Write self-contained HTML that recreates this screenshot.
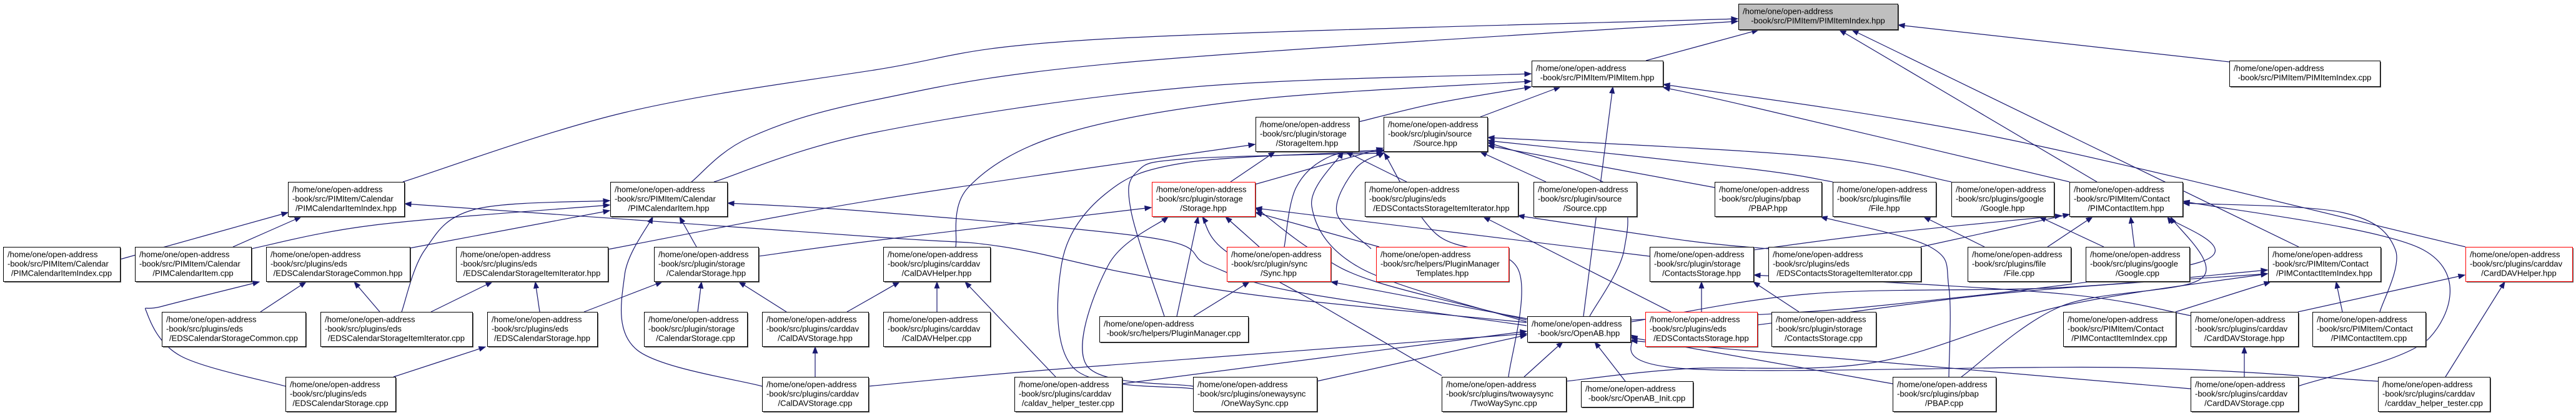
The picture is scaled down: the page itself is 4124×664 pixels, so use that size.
<!DOCTYPE html>
<html><head><meta charset="utf-8">
<style>
html,body{margin:0;padding:0;background:#fff;}
svg{display:block;}
text{font-family:"Liberation Sans",sans-serif;font-size:13px;fill:#000;}
</style></head>
<body>
<svg id="g" width="4124" height="664" xmlns="http://www.w3.org/2000/svg"></svg>
<script>
var NS="http://www.w3.org/2000/svg",svg=document.getElementById('g');
var H="/home/one/open-address";
// [x1,x2,y,h,lines,style]
var N=[
[2783,3038,6,41,[H,"-book/src/PIMItem/PIMItemIndex.hpp"],"root"],
[2452,2662,97,41,[H,"-book/src/PIMItem/PIMItem.hpp"]],
[3569,3810,97,41,[H,"-book/src/PIMItem/PIMItemIndex.cpp"]],
[2010,2175,187,55,[H,"-book/src/plugin/storage","/StorageItem.hpp"]],
[2215,2381,187,55,[H,"-book/src/plugin/source","/Source.hpp"]],
[461,647,291,55,[H,"-book/src/PIMItem/Calendar","/PIMCalendarItemIndex.hpp"]],
[977,1164,291,55,[H,"-book/src/PIMItem/Calendar","/PIMCalendarItem.hpp"]],
[1844,2009,291,55,[H,"-book/src/plugin/storage","/Storage.hpp"],"red"],
[2185,2430,291,55,[H,"-book/src/plugins/eds","/EDSContactsStorageItemIterator.hpp"]],
[2455,2620,291,55,[H,"-book/src/plugin/source","/Source.cpp"]],
[2745,2916,291,55,[H,"-book/src/plugins/pbap","/PBAP.hpp"]],
[2934,3099,291,55,[H,"-book/src/plugins/file","/File.hpp"]],
[3124,3288,291,55,[H,"-book/src/plugins/google","/Google.hpp"]],
[3313,3494,291,55,[H,"-book/src/PIMItem/Contact","/PIMContactItem.hpp"]],
[5,192,395,55,[H,"-book/src/PIMItem/Calendar","/PIMCalendarItemIndex.cpp"]],
[216,402,395,55,[H,"-book/src/PIMItem/Calendar","/PIMCalendarItem.cpp"]],
[426,656,395,55,[H,"-book/src/plugins/eds","/EDSCalendarStorageCommon.hpp"]],
[730,973,395,55,[H,"-book/src/plugins/eds","/EDSCalendarStorageItemIterator.hpp"]],
[1047,1214,395,55,[H,"-book/src/plugin/storage","/CalendarStorage.hpp"]],
[1414,1585,395,55,[H,"-book/src/plugins/carddav","/CalDAVHelper.hpp"]],
[1964,2130,395,55,[H,"-book/src/plugin/sync","/Sync.hpp"],"red"],
[2203,2415,395,55,[H,"-book/src/helpers/PluginManager","Templates.hpp"],"red"],
[2641,2807,395,55,[H,"-book/src/plugin/storage","/ContactsStorage.hpp"]],
[2831,3075,395,55,[H,"-book/src/plugins/eds","/EDSContactsStorageItemIterator.cpp"]],
[3150,3315,395,55,[H,"-book/src/plugins/file","/File.cpp"]],
[3339,3505,395,55,[H,"-book/src/plugins/google","/Google.cpp"]],
[3631,3811,395,55,[H,"-book/src/PIMItem/Contact","/PIMContactItemIndex.hpp"]],
[3947,4118,395,55,[H,"-book/src/plugins/carddav","/CardDAVHelper.hpp"],"red"],
[259,489,499,55,[H,"-book/src/plugins/eds","/EDSCalendarStorageCommon.cpp"]],
[513,756,499,55,[H,"-book/src/plugins/eds","/EDSCalendarStorageItemIterator.cpp"]],
[780,956,499,55,[H,"-book/src/plugins/eds","/EDSCalendarStorage.hpp"]],
[1031,1196,499,55,[H,"-book/src/plugin/storage","/CalendarStorage.cpp"]],
[1220,1390,499,55,[H,"-book/src/plugins/carddav","/CalDAVStorage.hpp"]],
[1414,1585,499,55,[H,"-book/src/plugins/carddav","/CalDAVHelper.cpp"]],
[1760,1998,506,41,[H,"-book/src/helpers/PluginManager.cpp"]],
[2445,2610,506,41,[H,"-book/src/OpenAB.hpp"]],
[2634,2813,499,55,[H,"-book/src/plugins/eds","/EDSContactsStorage.hpp"],"red"],
[2836,3003,499,55,[H,"-book/src/plugin/storage","/ContactsStorage.cpp"]],
[3303,3483,499,55,[H,"-book/src/PIMItem/Contact","/PIMContactItemIndex.cpp"]],
[3507,3679,499,55,[H,"-book/src/plugins/carddav","/CardDAVStorage.hpp"]],
[3702,3883,499,55,[H,"-book/src/PIMItem/Contact","/PIMContactItem.cpp"]],
[457,633,603,55,[H,"-book/src/plugins/eds","/EDSCalendarStorage.cpp"]],
[1220,1390,603,55,[H,"-book/src/plugins/carddav","/CalDAVStorage.cpp"]],
[1624,1796,603,55,[H,"-book/src/plugins/carddav","/caldav_helper_tester.cpp"]],
[1910,2108,603,55,[H,"-book/src/plugins/onewaysync","/OneWaySync.cpp"]],
[2308,2507,603,55,[H,"-book/src/plugins/twowaysync","/TwoWaySync.cpp"]],
[2531,2710,610,41,[H,"-book/src/OpenAB_Init.cpp"]],
[3030,3195,603,55,[H,"-book/src/plugins/pbap","/PBAP.cpp"]],
[3507,3679,603,55,[H,"-book/src/plugins/carddav","/CardDAVStorage.cpp"]],
[3807,3986,603,55,[H,"-book/src/plugins/carddav","/carddav_helper_tester.cpp"]]
];
var E=[
[[192,415],[461,340]],[[373,395],[482,347]],[[402,398],[600,360],[976,328]],[[656,397],[976,337]],
[[643,499],[680,400],[760,335],[976,321]],[[1115,395],[1088,347]],[[1220,618],[1020,560],[1000,440],[1045,347]],
[[417,499],[490,451]],[[608,499],[567,451]],[[457,618],[290,570],[235,500],[260,490],[415,451]],
[[690,499],[788,451]],[[864,499],[857,451]],[[935,499],[1060,451]],[[1117,499],[1123,451]],[[1259,499],[1183,451]],
[[1305,603],[1305,555]],[[630,603],[777,555]],
[[645,291],[1000,180],[1400,112],[1757,63],[2782,30]],
[[1107,291],[1200,220],[1400,160],[1800,100],[2782,34]],
[[1143,291],[1400,212],[1900,140],[2451,118]],
[[973,399],[1400,320],[2009,231]],[[1214,410],[1400,385],[1843,332]],
[[2444,516],[2025,474],[1800,436],[1600,394],[1400,379],[648,326]],
[[2444,521],[2070,466],[1935,424],[1846,381],[1400,339],[1165,325]],
[[1356,499],[1400,474],[1440,451]],[[1390,618],[1700,590],[2444,534]],
[[1500,499],[1500,451]],[[1690,603],[1545,451]],[[1796,614],[2444,530]],
[[2175,195],[2300,165],[2451,139]],[[2370,187],[2498,139]],[[1970,291],[2041,243]],[[2009,295],[2214,237]],
[[1864,506],[1811,339],[1820,275],[1900,254],[2214,245]],[[1884,506],[1918,347]],[[1911,506],[2000,451]],
[[2016,395],[1962,347]],[[2056,395],[2075,300],[2130,250],[2216,240]],
[[1910,618],[1740,585],[1775,423],[1870,347]],
[[1910,622],[1720,590],[1700,420],[1770,310],[1900,260],[2214,242]],
[[2108,610],[2444,536]],[[2445,510],[2131,451]],[[2308,601],[2100,480],[1960,400],[1925,347]],
[[2415,603],[2430,430],[2300,375],[2216,245]],[[2440,603],[2502,547]],
[[2507,610],[2700,590],[3000,580],[3300,490],[3630,438]],
[[2602,610],[2553,547]],[[2535,506],[2582,139]],[[2545,506],[2600,400],[2580,300],[2382,228]],
[[2444,512],[2200,450],[2100,400],[2010,332]],[[2444,515],[2180,430],[2100,330],[2150,243]],
[[2252,291],[2155,243]],[[2475,291],[2370,243]],[[2745,300],[2382,233]],[[2641,410],[2010,333]],
[[2208,395],[2010,340]],[[2195,398],[2140,340],[2170,270],[2216,244]],
[[2880,499],[2807,451]],[[2724,499],[2724,451]],[[2675,499],[2375,347]],[[2831,398],[2700,385],[2430,345]],
[[2934,291],[2800,270],[2382,225]],[[3124,291],[2900,250],[2382,220]],
[[3313,291],[2800,170],[2663,140]],[[3947,395],[3200,220],[2663,135]],
[[3357,291],[2945,48]],[[3680,395],[2965,48]],[[3569,99],[3039,40]],[[2635,97],[2815,48]],
[[3278,395],[3350,347]],[[3177,395],[3080,347]],[[3368,395],[3265,347]],[[3417,395],[3411,347]],
[[3075,395],[3313,343]],[[2807,400],[3000,375],[3300,345]],
[[3120,603],[3120,460],[3090,395],[2915,347]],[[3140,603],[3300,490],[3525,445],[3475,347]],
[[3030,614],[2611,540]],[[3507,505],[3300,470],[2808,440]],[[3679,499],[3946,440]],
[[3483,499],[3635,451]],[[3750,499],[3740,451]],[[3810,499],[3835,400],[3750,340],[3495,325]],
[[3593,603],[3593,555]],[[3679,618],[3890,540],[3880,400],[3495,322]],[[3915,603],[4010,451]],
[[3807,610],[3400,588],[2700,590],[2611,536]],[[3507,622],[2611,545]],
[[2611,515],[2900,470],[3300,460],[3630,432]],[[2611,512],[3000,490],[3520,420],[3470,347]],
[[2813,520],[3200,470],[3630,438]],
[[1530,395],[1550,300],[1700,215],[2000,160],[2451,130]]
];
function el(t,a,p){var e=document.createElementNS(NS,t);for(var k in a)e.setAttribute(k,a[k]);(p||svg).appendChild(e);return e;}
var C="#191970";
E.forEach(function(p){
  var d="M"+p[0][0]+","+p[0][1];
  for(var i=0;i<p.length-1;i++){
    var p0=p[i-1]||p[i],p1=p[i],p2=p[i+1],p3=p[i+2]||p2;
    var c1=[p1[0]+(p2[0]-p0[0])/6,p1[1]+(p2[1]-p0[1])/6],c2=[p2[0]-(p3[0]-p1[0])/6,p2[1]-(p3[1]-p1[1])/6];
    d+=" C"+c1[0]+","+c1[1]+" "+c2[0]+","+c2[1]+" "+p2[0]+","+p2[1];
  }
  el("path",{d:d,fill:"none",stroke:C,"stroke-width":"1.2"});
  var a=p[p.length-1],b=p[p.length-2],dx=a[0]-b[0],dy=a[1]-b[1],L=Math.sqrt(dx*dx+dy*dy);dx/=L;dy/=L;
  var bx=a[0]-dx*10,by=a[1]-dy*10,nx=-dy*3.8,ny=dx*3.8;
  el("polygon",{points:a[0]+","+a[1]+" "+(bx+nx)+","+(by+ny)+" "+(bx-nx)+","+(by-ny),fill:C,stroke:C});
});
N.forEach(function(n){
  var x=n[0],w=n[1]-n[0],y=n[2],h=n[3],st=n[5];
  el("rect",{x:x+2,y:y+2,width:w,height:h,fill:"#555"});
  el("rect",{x:x+0.5,y:y+0.5,width:w,height:h,fill:st=="root"?"#bfbfbf":"#fff",stroke:st=="red"?"#ff0000":"#000","stroke-width":"1"});
  var ls=n[4];
  ls.forEach(function(s,i){
    var last=i==ls.length-1;
    var t=el("text",{x:last?x+w/2:x+7,y:y+16.5+i*15,"text-anchor":last?"middle":"start"});
    t.textContent=s;
  });
});
</script>
</body></html>
